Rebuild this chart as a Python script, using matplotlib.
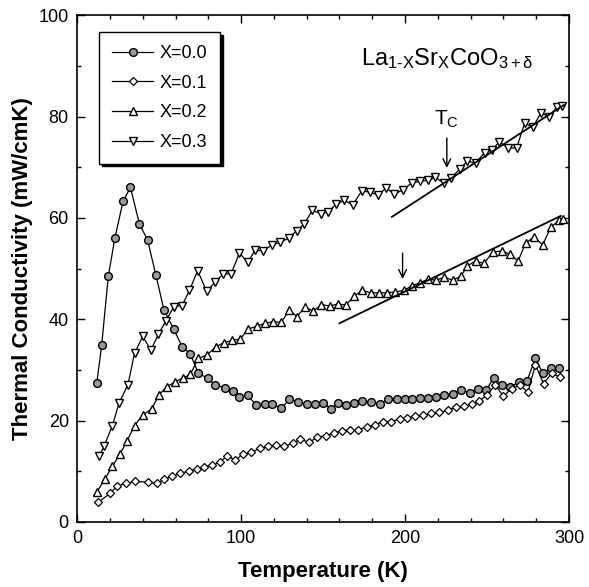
import numpy as np
import matplotlib
matplotlib.use('Agg')
import matplotlib.pyplot as plt
from matplotlib.ticker import MultipleLocator

plt.rcParams['font.family'] = ['Liberation Sans', 'DejaVu Sans']
plt.rcParams['mathtext.fontset'] = 'custom'
plt.rcParams['mathtext.rm'] = 'Liberation Sans'
plt.rcParams['mathtext.it'] = 'Liberation Sans:italic'

# X = 0.0
T0 = [12, 15, 19, 23, 28, 32.5, 38, 43, 48, 53, 59, 64, 69, 74, 80, 84, 90, 95, 99, 104,
      109, 114.5, 119, 124.5, 129.5, 135, 140, 145, 150, 155, 159, 164, 169, 174, 179.5,
      184.5, 189.5, 195, 200, 204, 209, 214, 219, 224, 229, 234, 239.5, 244.5, 249.5, 254,
      259, 264, 269.5, 274.5, 279.5, 284, 289, 294]
K0 = [27.5, 35, 48.5, 56, 63.3, 66, 58.8, 55.6, 48.7, 41.8, 38, 34.6, 33.1, 29.3, 28.3,
      27, 26.5, 25.8, 24.7, 25, 23.1, 23.3, 23.3, 22.4, 24.2, 23.6, 23.3, 23.3, 23.5, 22.3,
      23.5, 23.1, 23.5, 23.8, 23.6, 23.3, 24.2, 24.2, 24.3, 24.3, 24.5, 24.4, 24.6, 25,
      25.3, 26, 25.5, 26.3, 26, 28.4, 27, 26.6, 27.6, 27.9, 32.3, 29.3, 30.3, 30.3]

# X = 0.1
T1 = [13, 20, 24.5, 30, 35.5, 43, 48.5, 53, 58, 63, 68, 73, 77.5, 82.5, 87, 91.5, 96.5,
      101, 106, 111.5, 116.5, 121.5, 126, 131.5, 136, 141.5, 146.5, 151.5, 156.5, 161.5,
      166.5, 171.5, 176.5, 181.5, 186.5, 191.5, 197, 201.5, 206, 211, 216, 221, 226, 231,
      236, 241, 245, 250, 255, 260, 265, 270, 275, 279.5, 284.5, 289.5, 294.5]
K1 = [3.9, 5.6, 7.1, 7.6, 8.0, 7.8, 7.6, 8.4, 9.0, 9.6, 10.0, 10.5, 10.9, 11.2, 11.8,
      13.0, 12.2, 13.3, 13.7, 14.5, 14.9, 15.1, 14.9, 15.5, 16.3, 15.7, 16.7, 17.0, 17.5,
      18.0, 18.2, 18.1, 18.8, 19.1, 19.8, 19.8, 20.3, 20.5, 20.9, 21.0, 21.5, 21.6, 22.0,
      22.6, 22.8, 23.3, 23.8, 25.0, 27.0, 24.8, 26.3, 27.0, 25.6, 31.0, 27.3, 29.3, 28.6]

# X = 0.2
T2 = [12, 17, 21.5, 26, 30.5, 35, 40, 45.5, 50, 54.5, 59.5, 64.5, 69, 74, 79, 84.5, 89.5,
      94.5, 99.5, 104.5, 109.5, 114.5, 119.5, 124.5, 129.5, 134, 139, 144, 149, 154, 159,
      164, 169, 174, 179, 184, 189, 194, 199.5, 204, 209, 214, 219, 224, 229, 234, 238,
      243, 248, 253.5, 259, 264, 269, 273.5, 278.5, 284, 289, 294, 296.5]
K2 = [5.9, 8.5, 11, 13.3, 16, 19, 21.1, 22.3, 25.1, 26.6, 27.6, 28.4, 29.1, 32.3, 32.9,
      34.5, 35.4, 35.8, 36.1, 38.1, 38.6, 39.2, 39.5, 39.4, 41.8, 40.5, 42.4, 41.6, 42.9,
      42.6, 43, 42.8, 44.6, 45.7, 45.2, 45.2, 45.2, 45.4, 45.7, 46.6, 47.2, 47.9, 47.7,
      48.3, 47.7, 48.5, 50.5, 51.5, 51, 53.2, 53.5, 52.8, 51.5, 55, 56.2, 54.7, 58.2,
      59.5, 59.8]

# X = 0.3
T3 = [13.5, 16.5, 21.5, 25.5, 31, 35, 40, 45, 49.5, 54, 59, 64, 68.5, 73.5, 79, 84, 89,
      94, 99, 104, 108.5, 113.5, 119, 124, 129, 134, 138.5, 143.5, 148.5, 153, 158, 163,
      168, 173.5, 178.5, 183.5, 188.5, 193.5, 198.5, 204, 209, 214, 218.5, 223.5, 228,
      233.5, 238, 243, 248.5, 253, 257.5, 263, 268, 273, 278, 283, 288, 292.5, 295.5]
K3 = [13, 15, 19, 23.4, 27.1, 33.3, 36.6, 33.9, 37, 39.6, 42.5, 42.7, 45.7, 49.6, 45.5,
      47.3, 48.9, 49, 53.1, 51.2, 53.6, 53.5, 54.7, 55.2, 56, 57.5, 58.8, 61.5, 60.8, 61.2,
      62.7, 63.5, 62.5, 65.3, 65.1, 64.5, 65.9, 64.7, 65.5, 66.9, 67.2, 67.4, 68, 66.9,
      67.8, 69.7, 71.2, 70.8, 72.9, 73.4, 75, 73.8, 73.8, 78.7, 77.9, 80.8, 79.9, 81.9,
      82.1]

labels = ['X=0.0', 'X=0.1', 'X=0.2', 'X=0.3']

# straight-line guides above Tc
fit3_T = [192, 297]
fit3_K = [60.2, 82.3]
fit2_T = [160, 295]
fit2_K = [39.2, 60.4]

fig = plt.figure(figsize=(5.89, 5.87), dpi=100)
ax = fig.add_axes([0.131, 0.111, 0.835, 0.863])

lw = 0.9
ax.plot(T0, K0, '-o', color='black', lw=lw, ms=5.6, mfc='0.6', mec='black', mew=1.0, label=labels[0])
ax.plot(T1, K1, '-D', color='black', lw=lw, ms=3.6, mfc='white', mec='black', mew=0.9, label=labels[1])
ax.plot(T2, K2, '-^', color='black', lw=lw, ms=5.5, mfc='white', mec='black', mew=1.0, label=labels[2])
ax.plot(T3, K3, '-v', color='black', lw=lw, ms=5.5, mfc='white', mec='black', mew=1.0, label=labels[3])

ax.plot(fit3_T, fit3_K, color='black', lw=1.3)
ax.plot(fit2_T, fit2_K, color='black', lw=1.3)

# Tc arrows
ax.annotate('', xy=(225.5, 69.3), xytext=(225.5, 76.3),
            arrowprops=dict(arrowstyle='->', color='black', lw=1.0, mutation_scale=14))
ax.text(225, 78.3, r'$\mathregular{T_C}$', fontsize=15, ha='center', va='baseline')
ax.annotate('', xy=(198.5, 47.4), xytext=(198.5, 53.6),
            arrowprops=dict(arrowstyle='->', color='black', lw=1.0, mutation_scale=14))

ax.text(173, 90.2, r'$\mathregular{La_{1\text{-}X}Sr_XCoO_{3+\delta}}$', fontsize=17,
        ha='left', va='baseline')

ax.set_xlim(0, 300)
ax.set_ylim(0, 100)
ax.xaxis.set_major_locator(MultipleLocator(100))
ax.xaxis.set_minor_locator(MultipleLocator(20))
ax.yaxis.set_major_locator(MultipleLocator(20))
ax.yaxis.set_minor_locator(MultipleLocator(10))
ax.tick_params(which='both', direction='in', top=True, right=True, labelsize=13, width=1.0)
ax.tick_params(which='major', length=6, pad=6)
ax.tick_params(which='minor', length=3)
for s in ax.spines.values():
    s.set_linewidth(1.2)

ax.set_xlabel('Temperature (K)', fontsize=16, fontweight='bold', labelpad=10)
ax.set_ylabel('Thermal Conductivity (mW/cmK)', fontsize=16, fontweight='bold', labelpad=4)

leg = ax.legend(loc='upper left', bbox_to_anchor=(0.045, 0.966), borderaxespad=0,
                fontsize=13, handlelength=2.3, handletextpad=0.35, labelspacing=0.7,
                fancybox=False, edgecolor='black', framealpha=1,
                shadow={'color': 'black', 'alpha': 1, 'ox': 2, 'oy': -2}, borderpad=0.7)
leg.get_frame().set_linewidth(1.0)

fig.savefig('out.png', dpi=100)
